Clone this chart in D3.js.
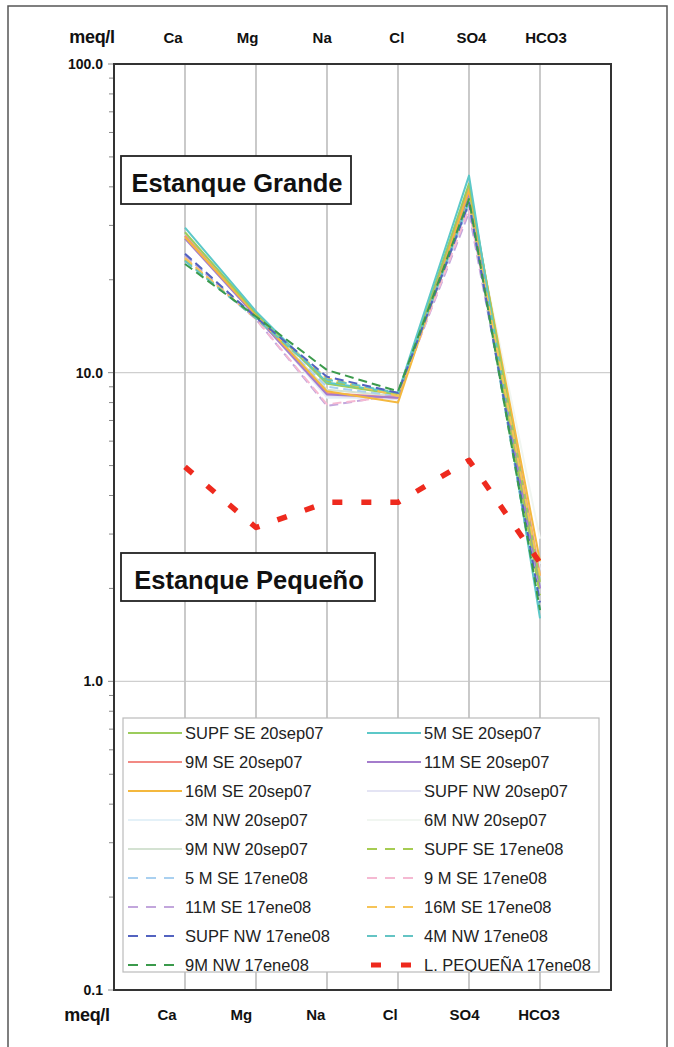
<!DOCTYPE html>
<html>
<head>
<meta charset="utf-8">
<script src="https://cdn.jsdelivr.net/npm/d3@7"></script>
<style>
  html, body { margin: 0; padding: 0; background: #fff; }
  svg { display: block; font-family: "Liberation Sans", Arial, sans-serif; }
</style>
</head>
<body>
<svg id="chart" width="674" height="1047"></svg>
<script>
// ---------- DATA ----------
const categories = ["Ca", "Mg", "Na", "Cl", "SO4", "HCO3"];
const yTicks = [100, 10, 1, 0.1];
const yTickLabels = ["100.0", "10.0", "1.0", "0.1"];

const seriesNames = [
  "SUPF SE 20sep07", "5M SE 20sep07",
  "9M SE 20sep07", "11M SE 20sep07",
  "16M SE 20sep07", "SUPF NW 20sep07",
  "3M NW 20sep07", "6M NW 20sep07",
  "9M NW 20sep07", "SUPF SE 17ene08",
  "5 M SE 17ene08", "9 M SE 17ene08",
  "11M SE 17ene08", "16M SE 17ene08",
  "SUPF NW 17ene08", "4M NW 17ene08",
  "9M NW 17ene08", "L. PEQUEÑA 17ene08"
];
const seriesColors = [
  "#9ccc5c", "#5cc8c8",
  "#f28a84", "#a47ccc",
  "#f4b83e", "#e4e4f4",
  "#e4f1f8", "#f1f6f1",
  "#d4e2d2", "#a6cc52",
  "#a9d0f0", "#f5b9d2",
  "#c2a6dc", "#f6c458",
  "#5363c0", "#64c4c4",
  "#3b9a4c", "#ee2a1e"
];
const seriesDashed = [
  false, false, false, false, false, false, false, false, false,
  true, true, true, true, true, true, true, true, true
];
// values per series in order Ca, Mg, Na, Cl, SO4, HCO3 (meq/l)
const vSupfSE_sep = [28.5, 15.6, 9.2, 8.5, 41.0, 2.1];
const v5mSE_sep   = [29.5, 15.8, 9.3, 8.6, 43.5, 1.6];
const v9mSE_sep   = [27.8, 15.3, 8.6, 8.3, 40.0, 2.2];
const v11mSE_sep  = [27.2, 15.2, 8.5, 8.3, 38.0, 2.0];
const v16mSE_sep  = [27.5, 15.4, 8.7, 8.0, 39.0, 2.45];
const vSupfNW_sep = [27.5, 15.3, 8.4, 8.2, 37.0, 2.3];
const v3mNW_sep   = [28.0, 15.4, 8.3, 8.3, 38.0, 2.4];
const v6mNW_sep   = [28.0, 15.5, 8.5, 8.4, 37.5, 2.9];
const v9mNW_sep   = [28.2, 15.5, 8.8, 8.4, 39.0, 2.2];
const vSupfSE_ene = [23.2, 15.0, 9.4, 8.5, 36.5, 1.9];
const v5mSE_ene   = [24.0, 15.1, 9.0, 8.4, 35.0, 2.0];
const v9mSE_ene   = [23.5, 14.9, 7.9, 8.4, 34.0, 2.1];
const v11mSE_ene  = [24.0, 14.9, 7.8, 8.5, 33.0, 2.0];
const v16mSE_ene  = [23.5, 15.0, 9.6, 8.4, 36.0, 2.2];
const vSupfNW_ene = [24.3, 15.1, 9.7, 8.6, 35.5, 1.8];
const v4mNW_ene   = [23.0, 15.0, 9.5, 8.6, 36.0, 1.7];
const v9mNW_ene   = [22.5, 15.2, 10.2, 8.7, 36.5, 1.7];
const vLPequena   = [4.95, 3.15, 3.8, 3.8, 5.2, 2.42];
const seriesValues = [
  vSupfSE_sep, v5mSE_sep, v9mSE_sep, v11mSE_sep, v16mSE_sep, vSupfNW_sep,
  v3mNW_sep, v6mNW_sep, v9mNW_sep, vSupfSE_ene, v5mSE_ene, v9mSE_ene,
  v11mSE_ene, v16mSE_ene, vSupfNW_ene, v4mNW_ene, v9mNW_ene, vLPequena
];
const boxLabels = ["Estanque Grande", "Estanque Pequeño"];
const axisUnit = "meq/l";

// ---------- LAYOUT ----------
const svg = d3.select("#chart");
const plot = { left: 114, right: 611, top: 64, bottom: 990 };

const x = d3.scalePoint().domain(categories)
  .range([plot.left, plot.right]).padding(1);
const y = d3.scaleLog().domain([0.1, 100]).range([plot.bottom, plot.top]);
// header/footer label positions (the original labels are not exactly on the grid)
const xTopLabel = d3.scalePoint().domain(categories).range([173, 546]);
const xBotLabel = d3.scalePoint().domain(categories).range([167, 539]);

// outer frame
svg.append("rect").attr("x", 8).attr("y", 6).attr("width", 659).attr("height", 1060)
  .attr("fill", "none").attr("stroke", "#555").attr("stroke-width", 1.5);

// horizontal grid at major decades
const g = svg.append("g");
g.selectAll("line.hg").data([10, 1]).join("line")
  .attr("x1", plot.left).attr("x2", plot.right)
  .attr("y1", d => y(d)).attr("y2", d => y(d))
  .attr("stroke", "#cfcfcf").attr("stroke-width", 1.2);
// vertical grid at categories
g.selectAll("line.vg").data(categories).join("line")
  .attr("x1", d => x(d)).attr("x2", d => x(d))
  .attr("y1", plot.top).attr("y2", plot.bottom)
  .attr("stroke", "#c4c4c4").attr("stroke-width", 1.8);

// minor ticks on y axis (outside)
const minor = [];
[0.1, 1, 10].forEach(dec => { for (let k = 2; k <= 9; k++) minor.push(dec * k); });
g.selectAll("line.mt").data(minor).join("line")
  .attr("x1", plot.left - 5).attr("x2", plot.left)
  .attr("y1", d => y(d)).attr("y2", d => y(d))
  .attr("stroke", "#888").attr("stroke-width", 1);
g.selectAll("line.Mt").data(yTicks).join("line")
  .attr("x1", plot.left - 6).attr("x2", plot.left)
  .attr("y1", d => y(d)).attr("y2", d => y(d))
  .attr("stroke", "#888").attr("stroke-width", 1);

// y tick labels
svg.selectAll("text.yt").data(yTicks).join("text")
  .attr("x", 103).attr("y", d => y(d) + 5)
  .attr("text-anchor", "end").attr("font-size", 14).attr("font-weight", "bold")
  .attr("fill", "#111").text((d, i) => yTickLabels[i]);

// category labels top and bottom
const headerRows = [
  { unitX: 92, unitY: 43, catY: 43, sx: xTopLabel },
  { unitX: 87, unitY: 1021, catY: 1020, sx: xBotLabel }
];
headerRows.forEach(h => {
  svg.append("text").attr("x", h.unitX).attr("y", h.unitY).attr("text-anchor", "middle")
    .attr("font-size", 18).attr("font-weight", "bold").attr("fill", "#111")
    .attr("letter-spacing", -0.3)
    .text(axisUnit);
  svg.selectAll(null).data(categories).join("text")
    .attr("x", d => h.sx(d)).attr("y", h.catY).attr("text-anchor", "middle")
    .attr("font-size", 15).attr("font-weight", "bold").attr("fill", "#111")
    .text(d => d);
});

// lines
const line = d3.line().x((d, i) => x(categories[i])).y(d => y(d));
const order = [7, 6, 5, 8, 10, 12, 11, 2, 3, 4, 0, 1, 9, 13, 15, 14, 16, 17];
const lg = svg.append("g");
order.forEach(i => {
  const red = i === 17;
  lg.append("path").datum(seriesValues[i])
    .attr("d", line).attr("fill", "none")
    .attr("stroke", seriesColors[i])
    .attr("stroke-width", red ? 5.5 : 2)
    .attr("stroke-dasharray", red ? "10,19" : (seriesDashed[i] ? "9,5" : null))
    .attr("stroke-linejoin", "round");
});

// plot frame
svg.append("rect").attr("x", plot.left).attr("y", plot.top)
  .attr("width", plot.right - plot.left).attr("height", plot.bottom - plot.top)
  .attr("fill", "none").attr("stroke", "#333").attr("stroke-width", 2);

// label boxes
const boxes = [
  { x: 121, y: 156, w: 230, h: 48, ty: 192 },
  { x: 121, y: 553, w: 254, h: 48, ty: 589 }
];
boxes.forEach((b, i) => {
  svg.append("rect").attr("x", b.x).attr("y", b.y).attr("width", b.w).attr("height", b.h)
    .attr("fill", "#fff").attr("stroke", "#222").attr("stroke-width", 1.8);
  svg.append("text").attr("x", b.x + b.w / 2 + 1).attr("y", b.ty)
    .attr("text-anchor", "middle").attr("font-size", 25.5).attr("font-weight", "bold")
    .attr("fill", "#111").text(boxLabels[i]);
});

// legend
const leg = { x: 123, y: 718, w: 476, h: 254 };
svg.append("rect").attr("x", leg.x).attr("y", leg.y).attr("width", leg.w).attr("height", leg.h)
  .attr("fill", "#fff").attr("stroke", "#bbb").attr("stroke-width", 1.2);
const colX = [128, 367];
const rowY0 = 733, rowDy = 29;
const legClip = svg.append("clipPath").attr("id", "legclip")
  .append("rect").attr("x", leg.x).attr("y", leg.y).attr("width", leg.w - 2).attr("height", leg.h);
const legG = svg.append("g").attr("clip-path", "url(#legclip)");
seriesNames.forEach((name, i) => {
  const c = i % 2, r = Math.floor(i / 2);
  const lx = colX[c], ly = rowY0 + r * rowDy;
  const red = i === 17;
  legG.append("line").attr("x1", red ? lx + 4 : lx).attr("x2", lx + 54)
    .attr("y1", ly).attr("y2", ly)
    .attr("stroke", seriesColors[i])
    .attr("stroke-width", red ? 5 : 2)
    .attr("stroke-dasharray", red ? "10,20" : (seriesDashed[i] ? "10,8" : null));
  legG.append("text").attr("x", lx + 57).attr("y", ly + 6)
    .attr("font-size", 16.5).attr("fill", "#222").text(name);
});
</script>
</body>
</html>
